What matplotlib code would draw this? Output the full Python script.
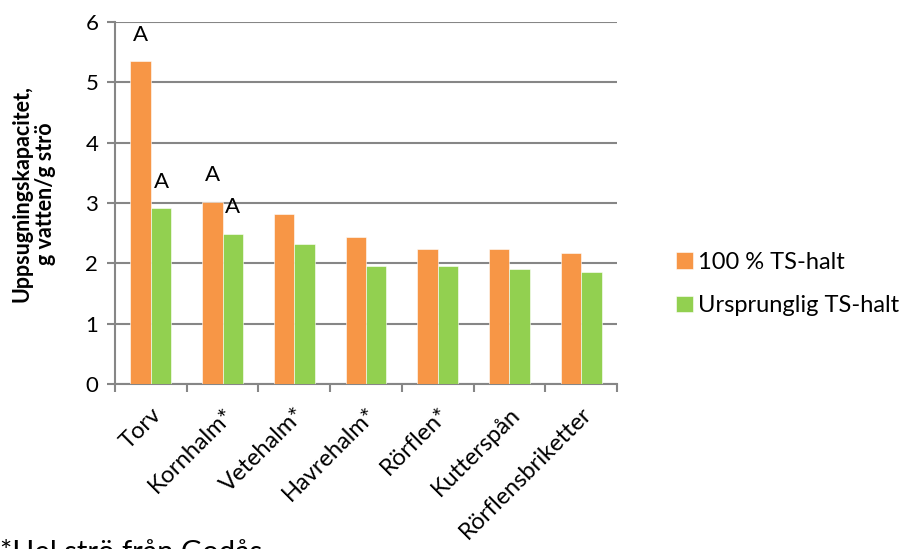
import matplotlib
matplotlib.use("Agg")
import matplotlib.pyplot as plt
import numpy as np

plt.rcParams['font.family'] = ['Lato', 'DejaVu Sans']

categories = ["Torv", "Kornhalm*", "Vetehalm*", "Havrehalm*", "Rörflen*", "Kutterspån", "Rörflensbriketter"]
series_names = ["100 % TS-halt", "Ursprunglig TS-halt"]
dry = [5.35, 3.02, 2.82, 2.44, 2.24, 2.23, 2.17]
orig = [2.91, 2.49, 2.32, 1.95, 1.95, 1.91, 1.85]
# annotation letters: (category index, series index, text)
letters = [(0, 0, "A"), (0, 1, "A"), (1, 0, "A"), (1, 1, "A")]
yticks = [0, 1, 2, 3, 4, 5, 6]

orange = "#F79646"
green = "#92D050"
gridc = "#868686"

fig = plt.figure(figsize=(9.05, 5.49), dpi=100)
ax = fig.add_axes([115/905, 1-384/549, 502/905, 362/549])

x = np.arange(len(categories))
w = 0.285
b1 = ax.bar(x - w/2, dry, w, color=orange, edgecolor="white", linewidth=0.4, label=series_names[0], zorder=3)
b2 = ax.bar(x + w/2, orig, w, color=green, edgecolor="white", linewidth=0.4, label=series_names[1], zorder=3)

vals = [dry, orig]
for ci, si, t in letters:
    xpos = x[ci] + (-w/2 if si == 0 else w/2)
    ax.text(xpos, vals[si][ci] + 0.44, t, ha="center", va="center", fontsize=16, zorder=4)

ax.set_xlim(-0.5, len(categories) - 0.5)
ax.set_ylim(0, 6)
ax.set_yticks(yticks)
ax.set_yticklabels([str(v) for v in yticks], fontsize=16)
ax.yaxis.grid(True, color=gridc, linewidth=1.5, zorder=0)
ax.set_axisbelow(True)

ax.set_xticks(x)
ax.set_xticklabels(categories, rotation=45, ha="right", va="top", rotation_mode="anchor", fontsize=17)
ax.tick_params(axis="x", which="major", length=0, pad=14)
ax.set_xticks(np.arange(-0.5, len(categories)), minor=True)
ax.tick_params(axis="x", which="minor", length=6, width=1.5, color=gridc, direction="out")
ax.tick_params(axis="y", length=6, width=1.5, color=gridc, direction="out", pad=6)

for s in ["top", "right"]:
    ax.spines[s].set_visible(False)
for s in ["left", "bottom"]:
    ax.spines[s].set_color(gridc)
    ax.spines[s].set_linewidth(1.5)

ax.set_ylabel("Uppsugningskapacitet,\ng vatten/g strö", fontsize=15.5, fontweight="bold",
              linespacing=1.15)
ax.yaxis.set_label_coords(-0.118, 0.525)

leg = fig.legend(handles=[b1, b2], labels=series_names, loc="center left",
                 bbox_to_anchor=(676/905, 1-284/549), frameon=False, fontsize=17,
                 borderpad=0, borderaxespad=0,
                 handlelength=0.7, handleheight=0.7, handletextpad=0.25, labelspacing=0.95)

fig.text(0.0, 1-566/549, "*Hel strö från Godås", fontsize=21, ha="left", va="bottom")

fig.savefig("out.png", dpi=100)
